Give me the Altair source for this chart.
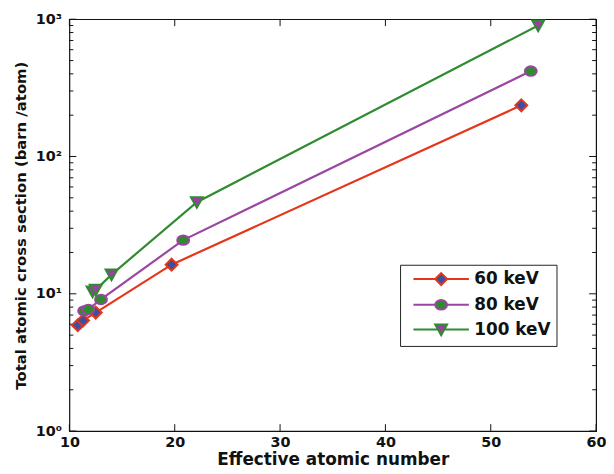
import altair as alt
import pandas as pd

series = ["60 keV", "80 keV", "100 keV"]
z_60 = [10.8, 11.3, 12.5, 19.7, 52.9]
s_60 = [5.9, 6.4, 7.3, 16.3, 236]
z_80 = [11.4, 11.8, 13.0, 20.8, 53.8]
s_80 = [7.5, 7.7, 9.1, 24.6, 419]
z_100 = [12.2, 12.5, 14.0, 22.1, 54.5]
s_100 = [10.4, 10.7, 13.8, 46.5, 900]

x_ticks = [10, 20, 30, 40, 50, 60]
y_major = [1, 10, 100, 1000]
y_minor = [2, 3, 4, 5, 6, 7, 8, 9, 20, 30, 40, 50, 60, 70, 80, 90,
           200, 300, 400, 500, 600, 700, 800, 900]

line_colors = ["#e5351a", "#9b46a1", "#2f8b30"]
face_colors = ["#3b4fa3", "#2f8b30", "#9b3fa3"]

marker_paths = [
    "M0,-1L1,0L0,1L-1,0Z",
    "M-1,0A1,0.8 0 1,0 1,0A1,0.8 0 1,0 -1,0Z",
    "M-1,-0.85L1,-0.85L0,0.95Z",
]
legend_paths = [
    "M-4.667,0H-1M1,0H4.667" + marker_paths[0],
    "M-4.667,0H-1M1,0H4.667" + marker_paths[1],
    "M-4.667,0H-0.53M0.53,0H4.667" + marker_paths[2],
]

rows = []
for name, zs, ss in [(series[0], z_60, s_60), (series[1], z_80, s_80), (series[2], z_100, s_100)]:
    for z, s in zip(zs, ss):
        rows.append({"series": name, "z": z, "sigma": s})
df = pd.DataFrame(rows)

W, H = 532, 416
FONT = "DejaVu Sans"
TXT = "#111"

xscale = alt.Scale(domain=[10, 60], nice=False, zero=False)
yscale = alt.Scale(type="log", domain=[1, 1000], nice=False)

label_expr = ("datum.value == 1 ? '10\u2070' : datum.value == 10 ? '10\u00b9' : "
              "datum.value == 100 ? '10\u00b2' : '10\u00b3'")

x_axis = alt.Axis(values=x_ticks, ticks=False, tickSize=0, grid=False, domain=False,
                  labelFlush=False, labelOverlap=False,
                  labelFont=FONT, labelFontSize=14.5, labelFontWeight="bold", labelColor=TXT,
                  labelPadding=5, title="Effective atomic number", titleFont=FONT,
                  titleFontSize=17, titleFontWeight="bold", titleColor=TXT,
                  titleY=29, titleBaseline="middle")
y_axis = alt.Axis(values=y_major, ticks=False, tickSize=0, grid=False, domain=False,
                  labelFlush=False, labelOverlap=False,
                  labelExpr=label_expr, labelFont=FONT, labelFontSize=14.5,
                  labelFontWeight="bold", labelColor=TXT, labelPadding=8,
                  title="Total atomic cross section (barn /atom)", titleFont=FONT,
                  titleFontSize=15, titleFontWeight="bold", titleColor=TXT,
                  titleX=-49, titleY=H / 2, titleAngle=270, titleAlign="center",
                  titleBaseline="middle")

lines = alt.Chart(df).mark_line(strokeWidth=2.2).encode(
    x=alt.X("z:Q", scale=xscale, axis=x_axis),
    y=alt.Y("sigma:Q", scale=yscale, axis=y_axis),
    color=alt.Color("series:N", scale=alt.Scale(domain=series, range=line_colors), legend=None),
    detail="series:N",
)

points = alt.Chart(df).mark_point(size=144, strokeWidth=2, opacity=1, fillOpacity=1).encode(
    x=alt.X("z:Q", scale=xscale),
    y=alt.Y("sigma:Q", scale=yscale),
    stroke=alt.Stroke("series:N", scale=alt.Scale(domain=series, range=line_colors), legend=None),
    fill=alt.Fill("series:N", scale=alt.Scale(domain=series, range=face_colors), legend=None),
    shape=alt.Shape("series:N", scale=alt.Scale(domain=series, range=marker_paths), legend=None),
)

leg = alt.Legend(
    orient="none", legendX=334, legendY=248, title=None,
    strokeColor="#222", fillColor="white", padding=6,
    symbolSize=144, symbolStrokeWidth=2, symbolOffset=27, symbolOpacity=1,
    labelOffset=25, labelFont=FONT, labelFontSize=17,
    labelFontWeight="bold", labelColor=TXT, rowPadding=6,
)

legend_layer = alt.Chart(df).mark_point(opacity=0, strokeWidth=2, fillOpacity=1).encode(
    x=alt.X("z:Q", scale=xscale),
    y=alt.Y("sigma:Q", scale=yscale),
    stroke=alt.Stroke("series:N", scale=alt.Scale(domain=series, range=line_colors), legend=leg),
    fill=alt.Fill("series:N", scale=alt.Scale(domain=series, range=face_colors), legend=leg),
    shape=alt.Shape("series:N", scale=alt.Scale(domain=series, range=legend_paths), legend=leg),
)

xt = pd.DataFrame({"t": x_ticks})
ymaj = pd.DataFrame({"t": y_major})
ymin = pd.DataFrame({"t": y_minor})

def xtick(y0, y1):
    return alt.Chart(xt).mark_rule(color=TXT, strokeWidth=1).encode(
        x=alt.X("t:Q", scale=xscale, axis=x_axis), y=alt.value(y0), y2=alt.value(y1))

def ytick(data, x0, x1):
    return alt.Chart(data).mark_rule(color=TXT, strokeWidth=1).encode(
        y=alt.Y("t:Q", scale=yscale, axis=y_axis), x=alt.value(x0), x2=alt.value(x1))

ticks = [
    xtick(H, H - 7), xtick(0, 7),
    ytick(ymaj, 0, 7), ytick(ymaj, W, W - 7),
    ytick(ymin, 0, 4), ytick(ymin, W, W - 4),
]

chart = alt.layer(lines, *ticks, points, legend_layer).resolve_scale(
    shape="independent", stroke="independent", fill="independent"
).properties(
    width=W, height=H,
    padding={"left": 62, "top": 9, "right": 10, "bottom": 40},
    autosize=alt.AutoSizeParams(type="none"),
).configure_view(stroke=TXT, strokeWidth=1.2)

chart.save("out.html", embed_options={"renderer": "svg", "actions": False})
